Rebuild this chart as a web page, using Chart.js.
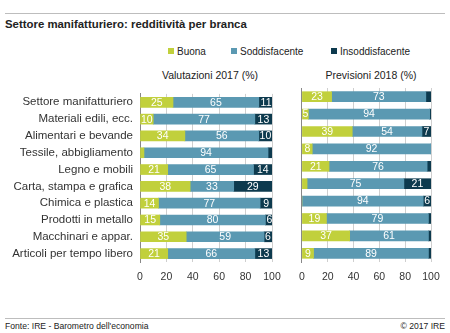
<!DOCTYPE html>
<html>
<head>
<meta charset="utf-8">
<script src="https://cdn.jsdelivr.net/npm/chart.js@4"></script>
<style>
  body { margin: 0; background: #fff; font-family: "Liberation Sans", Arial, sans-serif; color: #222; }
  #wrap { position: relative; width: 450px; height: 333px; overflow: hidden; }
  .abs { position: absolute; white-space: nowrap; }
  .hline { position: absolute; left: 5px; width: 440px; height: 1px; background: #bdbdbd; }
  .box { display: inline-block; width: 6px; height: 6px; margin-right: 3px; vertical-align: 1px; }
</style>
</head>
<body>
<div id="wrap">
  <div class="hline" style="top:13px"></div>
  <div class="abs" style="left:5px; top:16px; font-size:11.4px; font-weight:bold; line-height:16px">Settore manifatturiero: redditività per branca</div>

  <div class="abs" style="left:168px; top:45px; font-size:10px; line-height:14px"><span class="box" style="background:#c1d03c"></span>Buona</div>
  <div class="abs" style="left:231px; top:45px; font-size:10px; line-height:14px"><span class="box" style="background:#5b99b2"></span>Soddisfacente</div>
  <div class="abs" style="left:331px; top:45px; font-size:10px; line-height:14px"><span class="box" style="background:#0d3a4e"></span>Insoddisfacente</div>

  <div class="abs" style="left:110px; width:200px; text-align:center; top:68px; font-size:10.5px; line-height:14px">Valutazioni 2017 (%)</div>
  <div class="abs" style="left:271px; width:200px; text-align:center; top:68px; font-size:10.5px; line-height:14px">Previsioni 2018 (%)</div>

  <canvas id="left" class="abs" style="left:0; top:80px"></canvas>
  <canvas id="right" class="abs" style="left:290px; top:80px"></canvas>

  <div class="hline" style="top:318px"></div>
  <div class="abs" style="left:5px; top:320px; font-size:8.6px; line-height:12px">Fonte: IRE - Barometro dell'economia</div>
  <div class="abs" style="right:5px; top:320px; font-size:8.6px; line-height:12px">© 2017 IRE</div>
</div>

<script>
const categories = ["Settore manifatturiero", "Materiali edili, ecc.", "Alimentari e bevande",
  "Tessile, abbigliamento", "Legno e mobili", "Carta, stampa e grafica", "Chimica e plastica",
  "Prodotti in metallo", "Macchinari e appar.", "Articoli per tempo libero"];

const buona2017 = [25, 10, 34, 3, 21, 38, 14, 15, 35, 21];
const sodd2017  = [65, 77, 56, 94, 65, 33, 77, 80, 59, 66];
const inso2017  = [11, 13, 10, 3, 14, 29, 9, 6, 6, 13];

const buona2018 = [23, 5, 39, 8, 21, 4, 0, 19, 37, 9];
const sodd2018  = [73, 94, 54, 92, 76, 75, 94, 79, 61, 89];
const inso2018  = [4, 1, 7, 1, 3, 21, 6, 2, 2, 2];

const xTicks = [0, 20, 40, 60, 80, 100];

const FONT = "'Liberation Sans', Arial, sans-serif";
const colors = ["#c1d03c", "#5b99b2", "#0d3a4e"];
const seriesNames = ["Buona", "Soddisfacente", "Insoddisfacente"];

// labels inside the segments, skipped when the segment is too thin
const barLabels = {
  id: "barLabels",
  afterDatasetsDraw(chart) {
    const ctx = chart.ctx;
    ctx.save();
    ctx.font = "10.5px " + FONT;
    ctx.fillStyle = "#fff";
    ctx.textAlign = "center";
    ctx.textBaseline = "middle";
    chart.data.datasets.forEach((ds, i) => {
      chart.getDatasetMeta(i).data.forEach((bar, j) => {
        const v = ds.data[j];
        if (v < 5) return;
        const x = (bar.x + bar.base) / 2;
        ctx.fillText(String(v), x, bar.y + 0.5);
      });
    });
    ctx.restore();
  }
};

function makeChart(id, width, yWidth, rightPad, showLabels, data) {
  const canvas = document.getElementById(id);
  canvas.width = width;
  canvas.height = 210;
  return new Chart(canvas, {
    type: "bar",
    data: {
      labels: categories,
      datasets: data.map((d, i) => ({
        label: seriesNames[i],
        data: d,
        backgroundColor: colors[i],
        borderWidth: 0,
        barThickness: 10,
      })),
    },
    options: {
      indexAxis: "y",
      responsive: false,
      animation: false,
      layout: { padding: { top: 8, right: rightPad, left: 0, bottom: 0 } },
      plugins: { legend: { display: false }, tooltip: { enabled: false } },
      scales: {
        x: {
          stacked: true,
          min: 0,
          max: 100,
          afterBuildTicks: (scale) => { scale.ticks = xTicks.map((v) => ({ value: v })); },
          grid: { color: "#cfcfcf", drawTicks: false, lineWidth: 1 },
          border: { display: false },
          ticks: { color: "#333", padding: 9, font: { family: FONT, size: 10.5 } },
          afterFit: (scale) => { scale.height = 28; },
        },
        y: {
          stacked: true,
          grid: { display: false, drawTicks: false },
          border: { display: true, color: "#888", width: 1 },
          ticks: { display: showLabels, color: "#333", padding: 7, font: { family: FONT, size: 11.5 } },
          afterFit: (scale) => { scale.width = yWidth; },
        },
      },
    },
    plugins: [barLabels],
  });
}

makeChart("left", 290, 140, 18, true, [buona2017, sodd2017, inso2017]);
makeChart("right", 160, 8, 19, false, [buona2018, sodd2018, inso2018]);
</script>
</body>
</html>
